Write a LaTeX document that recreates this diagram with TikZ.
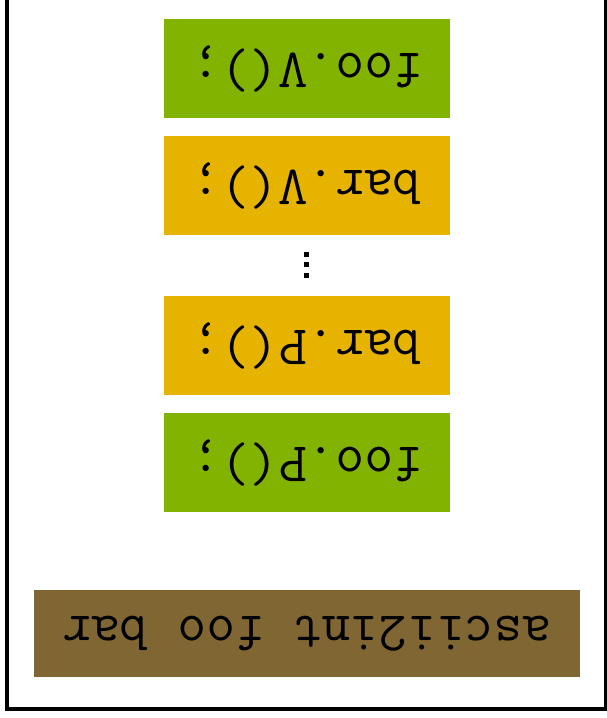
\documentclass[tikz,border=0pt]{standalone}
\usepackage{fontspec}
\definecolor{cgreen}{RGB}{130,179,0}
\definecolor{cyellow}{RGB}{230,180,0}
\definecolor{cbrown}{RGB}{128,102,51}
\tikzset{
  codebox/.style={minimum width=286pt, minimum height=99pt, inner sep=0pt, rotate=180,
    font=\ttfamily\fontsize{55.8}{60}\selectfont},
  dotsq/.style={fill=black, minimum size=5pt, inner sep=0pt}
}
\begin{document}
\begin{tikzpicture}[x=1pt,y=-1pt]
\useasboundingbox (0,0) rectangle (607,718);
\clip (0,0) rectangle (607,718);
\draw[line width=4pt] (7,-20) rectangle (606,709);
\node[codebox, fill=cgreen] (fooV) at (307,68.5) {foo.V();};
\node[codebox, fill=cyellow] (barV) at (307,185.5) {bar.V();};
\node[dotsq] (d1) at (306,254.5) {};
\node[dotsq] (d2) at (306,264.5) {};
\node[dotsq] (d3) at (306,275.5) {};
\node[codebox, fill=cyellow] (barP) at (307,345.5) {bar.P();};
\node[codebox, fill=cgreen] (fooP) at (307,462.5) {foo.P();};
\node[codebox, fill=cbrown, minimum width=546pt, minimum height=87pt] (main) at (307,633.5) {ascii2int foo bar};
\end{tikzpicture}
\end{document}
